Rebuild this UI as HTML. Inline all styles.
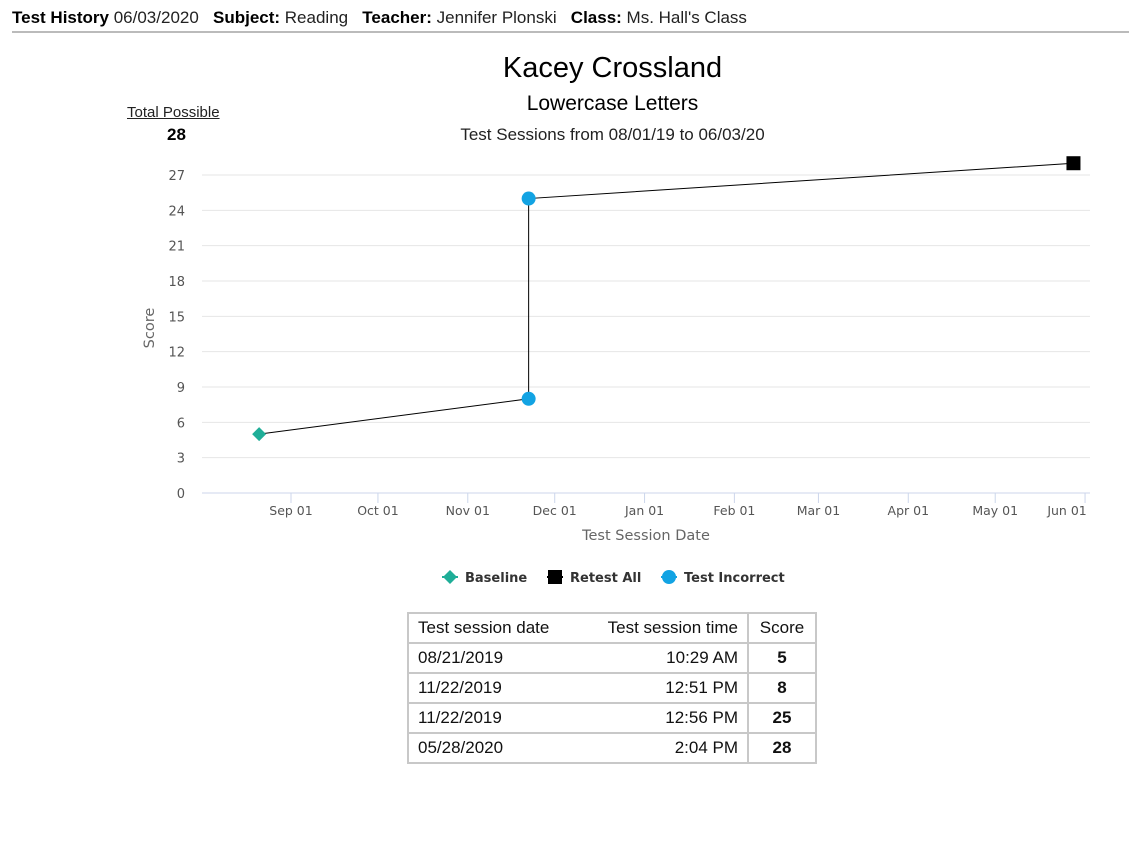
<!DOCTYPE html>
<html><head><meta charset="utf-8"><style>
body{margin:0;width:1129px;height:845px;background:#fff;font-family:"Liberation Sans",sans-serif;position:relative;overflow:hidden}
.hdr{position:absolute;left:12px;top:8px;font-size:17px;color:#222;white-space:nowrap}
.hdr b{font-weight:bold;color:#000}
.rule{position:absolute;left:12px;top:31px;width:1117px;height:2px;background:#bbb}
.t{position:absolute;left:48px;width:1129px;text-align:center;color:#000}
table{position:absolute;left:407px;top:612px;border-collapse:collapse;font-size:17px;color:#111}
td{border:2px solid #c8c8c8;height:28px;padding:0 9px}
td.a{border-right:none}
td.b{border-left:none}
</style></head><body>
<div class="hdr"><b>Test History</b> 06/03/2020&nbsp;&nbsp;&nbsp;<b>Subject:</b> Reading&nbsp;&nbsp;&nbsp;<b>Teacher:</b> Jennifer Plonski&nbsp;&nbsp;&nbsp;<b>Class:</b> Ms. Hall's Class</div>
<div class="rule"></div>
<div class="t" style="top:52px;font-size:29px">Kacey Crossland</div>
<div class="t" style="top:92px;font-size:21px">Lowercase Letters</div>
<div class="t" style="top:125px;font-size:17px;color:#222">Test Sessions from 08/01/19 to 06/03/20</div>
<div style="position:absolute;left:127px;top:104px;font-size:15px;text-decoration:underline;color:#222">Total Possible</div>
<div style="position:absolute;left:167px;top:125px;font-size:17px;font-weight:bold">28</div>
<svg id="chart" width="1129" height="600" style="position:absolute;left:0;top:0"></svg>
<table>
<tr><td class="a" style="width:160px">Test session date</td><td class="b" style="width:142px;text-align:right">Test session time</td><td style="width:48px;text-align:center">Score</td></tr>
<tr><td class="a">08/21/2019</td><td class="b" style="text-align:right">10:29 AM</td><td style="text-align:center;font-weight:bold">5</td></tr>
<tr><td class="a">11/22/2019</td><td class="b" style="text-align:right">12:51 PM</td><td style="text-align:center;font-weight:bold">8</td></tr>
<tr><td class="a">11/22/2019</td><td class="b" style="text-align:right">12:56 PM</td><td style="text-align:center;font-weight:bold">25</td></tr>
<tr><td class="a">05/28/2020</td><td class="b" style="text-align:right">2:04 PM</td><td style="text-align:center;font-weight:bold">28</td></tr>
</table>
<script>
const dates=["2019-08-21","2019-11-22","2019-11-22","2020-05-28"];
const scores=[5,8,25,28];
const types=["Baseline","Test Incorrect","Test Incorrect","Retest All"];
const yTicks=[0,3,6,9,12,15,18,21,24,27];
const xTickDates=["2019-09-01","2019-10-01","2019-11-01","2019-12-01","2020-01-01","2020-02-01","2020-03-01","2020-04-01","2020-05-01","2020-06-01"];
const xTickLabels=["Sep 01","Oct 01","Nov 01","Dec 01","Jan 01","Feb 01","Mar 01","Apr 01","May 01","Jun 01"];
const NS="http://www.w3.org/2000/svg";
const svg=document.getElementById('chart');
const day=864e5, t0=Date.parse("2019-09-01");
function x(d){return 291+(Date.parse(d)-t0)/day*2.898;}
function y(v){return 493-v*(318/27);}
function mk(tag,a,p){const e=document.createElementNS(NS,tag);for(const k in a)e.setAttribute(k,a[k]);(p||svg).appendChild(e);return e;}
yTicks.forEach(v=>{
 const g=mk('line',{x1:202,x2:1090,y1:y(v),y2:y(v),stroke:v===0?'#ccd6eb':'#e6e6e6','stroke-width':1});
 
 
 const t=mk('text',{x:185,y:y(v)+5,'text-anchor':'end','font-size':13,fill:'#555','font-family':'DejaVu Sans, sans-serif'});
 t.textContent=v;
 
 
});
xTickDates.forEach((d,i)=>{
 const l=mk('line',{x1:x(d),x2:x(d),y1:493,y2:503,stroke:'#ccd6eb'});
 
 
 const lx=i===xTickDates.length-1?x(d)-18:x(d);
 const t=mk('text',{x:lx,y:515,'text-anchor':'middle','font-size':12.5,fill:'#555','font-family':'DejaVu Sans, sans-serif'});
 t.textContent=xTickLabels[i];
 
 
});
let tt=mk('text',{x:646,y:540,'text-anchor':'middle','font-size':14.5,fill:'#666','font-family':'DejaVu Sans, sans-serif'});
tt.textContent='Test Session Date';


tt=mk('text',{x:154,y:328,'text-anchor':'middle','font-size':14.5,fill:'#666','font-family':'DejaVu Sans, sans-serif',transform:'rotate(-90 154 328)'});
tt.textContent='Score';


const pl=mk('polyline',{points:dates.map((d,i)=>x(d)+','+y(scores[i])).join(' '),fill:'none',stroke:'#000','stroke-width':1});


function marker(type,cx,cy){
 if(type==='Baseline')return mk('polygon',{points:`${cx},${cy-7} ${cx+7},${cy} ${cx},${cy+7} ${cx-7},${cy}`,fill:'#1fae98'});
 if(type==='Retest All')return mk('rect',{x:cx-7,y:cy-7,width:14,height:14,fill:'#000'});
 return mk('circle',{cx:cx,cy:cy,r:7,fill:'#12a3e3'});
}
dates.forEach((d,i)=>{
 const m=marker(types[i],x(d),y(scores[i]));
 
 
});
const leg=[["Baseline",442],["Retest All",547],["Test Incorrect",661]];
leg.forEach(([n,lx])=>{
 const l=mk('line',{x1:lx,x2:lx+16,y1:577,y2:577,stroke:n==='Baseline'?'#1fae98':n==='Retest All'?'#000':'#12a3e3','stroke-width':2});
 
 
 const m=marker(n,lx+8,577);
 
 
 const t=mk('text',{x:lx+23,y:582,'font-size':13,'font-weight':'bold',fill:'#333','font-family':'DejaVu Sans, sans-serif'});
 t.textContent=n;
 
 
});
</script>
</body></html>
